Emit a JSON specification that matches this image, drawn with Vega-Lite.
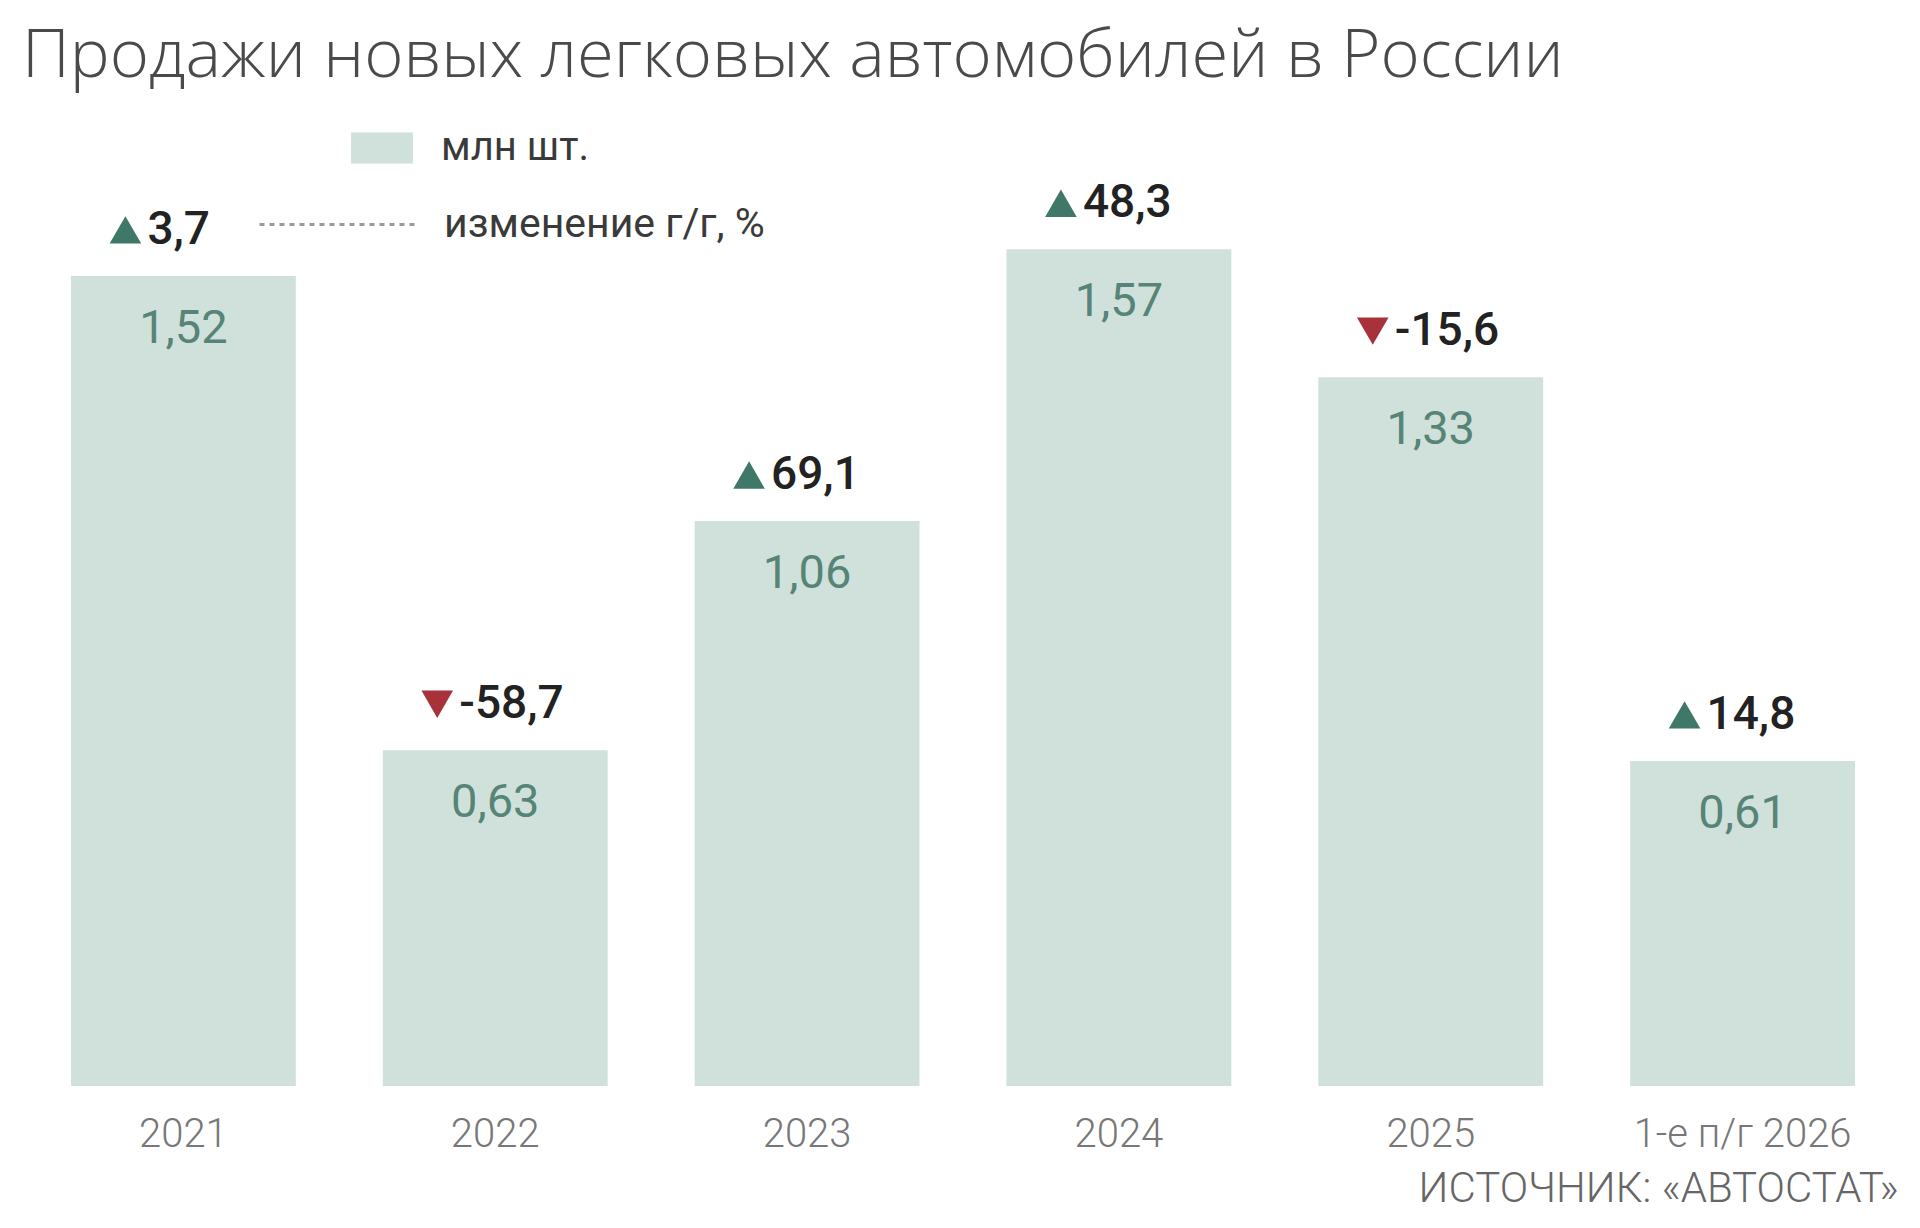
{
  "$schema": "https://vega.github.io/schema/vega-lite/v6.json",
  "autosize": "none",
  "width": 1784,
  "height": 986,
  "padding": {"left": 71, "top": 100, "right": 65, "bottom": 142},
  "background": "white",
  "title": {
    "text": "Продажи новых легковых автомобилей в России",
    "anchor": "start",
    "frame": "group",
    "dx": -49,
    "offset": -44,
    "baseline": "alphabetic",
    "font": "Open Sans",
    "fontSize": 67,
    "fontWeight": 300,
    "color": "#4a4a4a"
  },
  "data": {
    "values": [
      {"year": "2021", "value": 1.52, "change": 3.7},
      {"year": "2022", "value": 0.63, "change": -58.7},
      {"year": "2023", "value": 1.06, "change": 69.1},
      {"year": "2024", "value": 1.57, "change": 48.3},
      {"year": "2025", "value": 1.33, "change": -15.6},
      {"year": "1-е п/г 2026", "value": 0.61, "change": 14.8}
    ]
  },
  "encoding": {
    "x": {
      "field": "year",
      "type": "nominal",
      "sort": null,
      "scale": {"paddingInner": 0.279, "paddingOuter": 0},
      "axis": {
        "title": "ИСТОЧНИК: «АВТОСТАТ»",
        "titleAnchor": "end",
        "titleAlign": "right",
        "titleBaseline": "middle",
        "titleX": 1827,
        "titleY": 102,
        "titleFont": "Roboto",
        "titleFontSize": 42,
        "titleFontWeight": 300,
        "titleColor": "#666666",
        "labelAngle": 0,
        "labelFont": "Roboto",
        "labelFontSize": 40,
        "labelFontWeight": 300,
        "labelColor": "#777777",
        "labelPadding": 28,
        "labelLimit": 400,
        "ticks": false,
        "tickSize": 0,
        "domain": false,
        "grid": false
      }
    },
    "y": {
      "field": "value",
      "type": "quantitative",
      "scale": {"domain": [0, 1.85], "nice": false},
      "axis": null
    }
  },
  "layer": [
    {
      "mark": {"type": "bar"},
      "encoding": {
        "color": {
          "datum": "млн шт.",
          "type": "nominal",
          "scale": {"domain": ["млн шт."], "range": ["#d0e0da"]},
          "legend": {
            "orient": "none",
            "legendX": 280,
            "legendY": 17,
            "title": null,
            "symbolType": "M-1,-0.5H1V0.5H-1Z",
            "symbolSize": 3844,
            "symbolStrokeWidth": 0,
            "labelFont": "Roboto",
            "labelFontSize": 40,
            "labelColor": "#3a3a3a",
            "labelOffset": 28,
            "labelLimit": 700,
            "padding": 0
          }
        }
      }
    },
    {
      "mark": {"type": "rule", "opacity": 0},
      "encoding": {
        "strokeDash": {
          "datum": "изменение г/г, %",
          "type": "nominal",
          "scale": {"domain": ["изменение г/г, %"], "range": [[5, 5]]},
          "legend": {
            "orient": "none",
            "legendX": 280,
            "legendY": 92,
            "title": null,
            "symbolType": "M-4,0H1",
            "symbolSize": 3844,
            "symbolOpacity": 1,
            "symbolStrokeColor": "#9a9a9a",
            "symbolFillColor": "transparent",
            "symbolStrokeWidth": 3,
            "symbolDash": [5, 5],
            "labelFont": "Roboto",
            "labelFontSize": 41,
            "labelColor": "#3a3a3a",
            "labelOffset": 28,
            "labelLimit": 700,
            "padding": 0
          }
        }
      }
    },
    {
      "mark": {
        "type": "text",
        "baseline": "middle",
        "align": "center",
        "dy": 53,
        "font": "Roboto",
        "fontSize": 47,
        "color": "#568476"
      },
      "encoding": {
        "text": {"field": "value", "type": "quantitative", "format": ".2f"}
      }
    },
    {
      "mark": {
        "type": "point",
        "filled": true,
        "size": 1000,
        "opacity": 1,
        "xOffset": -58,
        "yOffset": -46
      },
      "encoding": {
        "shape": {
          "condition": {"test": "datum.change < 0", "value": "triangle-down"},
          "value": "triangle-up"
        },
        "fill": {
          "condition": {"test": "datum.change < 0", "value": "#a8323a"},
          "value": "#3f7769"
        }
      }
    },
    {
      "mark": {
        "type": "text",
        "baseline": "middle",
        "align": "left",
        "dx": -36,
        "dy": -46,
        "font": "Roboto",
        "fontSize": 46,
        "fontWeight": 500,
        "color": "#222222"
      },
      "encoding": {
        "text": {"field": "change", "type": "quantitative", "format": ".1f"}
      }
    }
  ],
  "config": {
    "view": {"stroke": null},
    "locale": {
      "number": {
        "decimal": ",",
        "thousands": " ",
        "grouping": [3],
        "currency": ["", " ₽"],
        "minus": "-"
      }
    }
  }
}
